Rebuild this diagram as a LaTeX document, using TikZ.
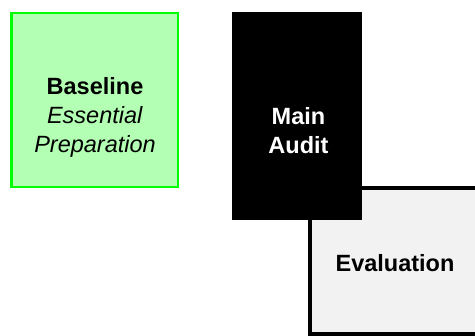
\documentclass[tikz,border=0pt]{standalone}
\usepackage{fontspec}
\setmainfont{Liberation Sans}
\definecolor{paleGreen}{HTML}{B3FFB3}
\definecolor{brightGreen}{HTML}{00FF00}
\definecolor{paleGrey}{HTML}{F2F2F2}
\begin{document}
\begin{tikzpicture}[x=1bp, y=-1bp,
  box/.style={rectangle, inner sep=0pt, outer sep=0pt},
  greenbox/.style={box, draw=brightGreen, fill=paleGreen, line width=2.5bp},
  blackbox/.style={box, fill=black},
  greybox/.style={box, draw=black, fill=paleGrey, line width=4bp},
  label/.style={inner sep=0pt, align=center,
    font=\fontsize{23.5bp}{29bp}\selectfont}
]
\useasboundingbox (0,0) rectangle (475,335);
\begin{scope}
  \clip (0,0) rectangle (475,335);
  % stage boxes
  \node (baseline) [greenbox, minimum width=166.5bp, minimum height=174bp] at (94.75,100) {};
  \node (evaluation) [greybox, minimum width=170bp, minimum height=146bp] at (395,261) {};
  \node (audit) [blackbox, minimum width=130bp, minimum height=208bp] at (297,116) {};
  % stage labels
  \node (baselineText) [label, anchor=north] at (95,77.2)
    {\textbf{Baseline}\\\textit{Essential}\\\textit{Preparation}};
  \node (auditText) [label, anchor=north, text=white] at (298.5,107.2)
    {\textbf{Main}\\\textbf{Audit}};
  \node (evaluationText) [label, anchor=base] at (395,271) {\textbf{Evaluation}};
\end{scope}
\end{tikzpicture}
\end{document}
